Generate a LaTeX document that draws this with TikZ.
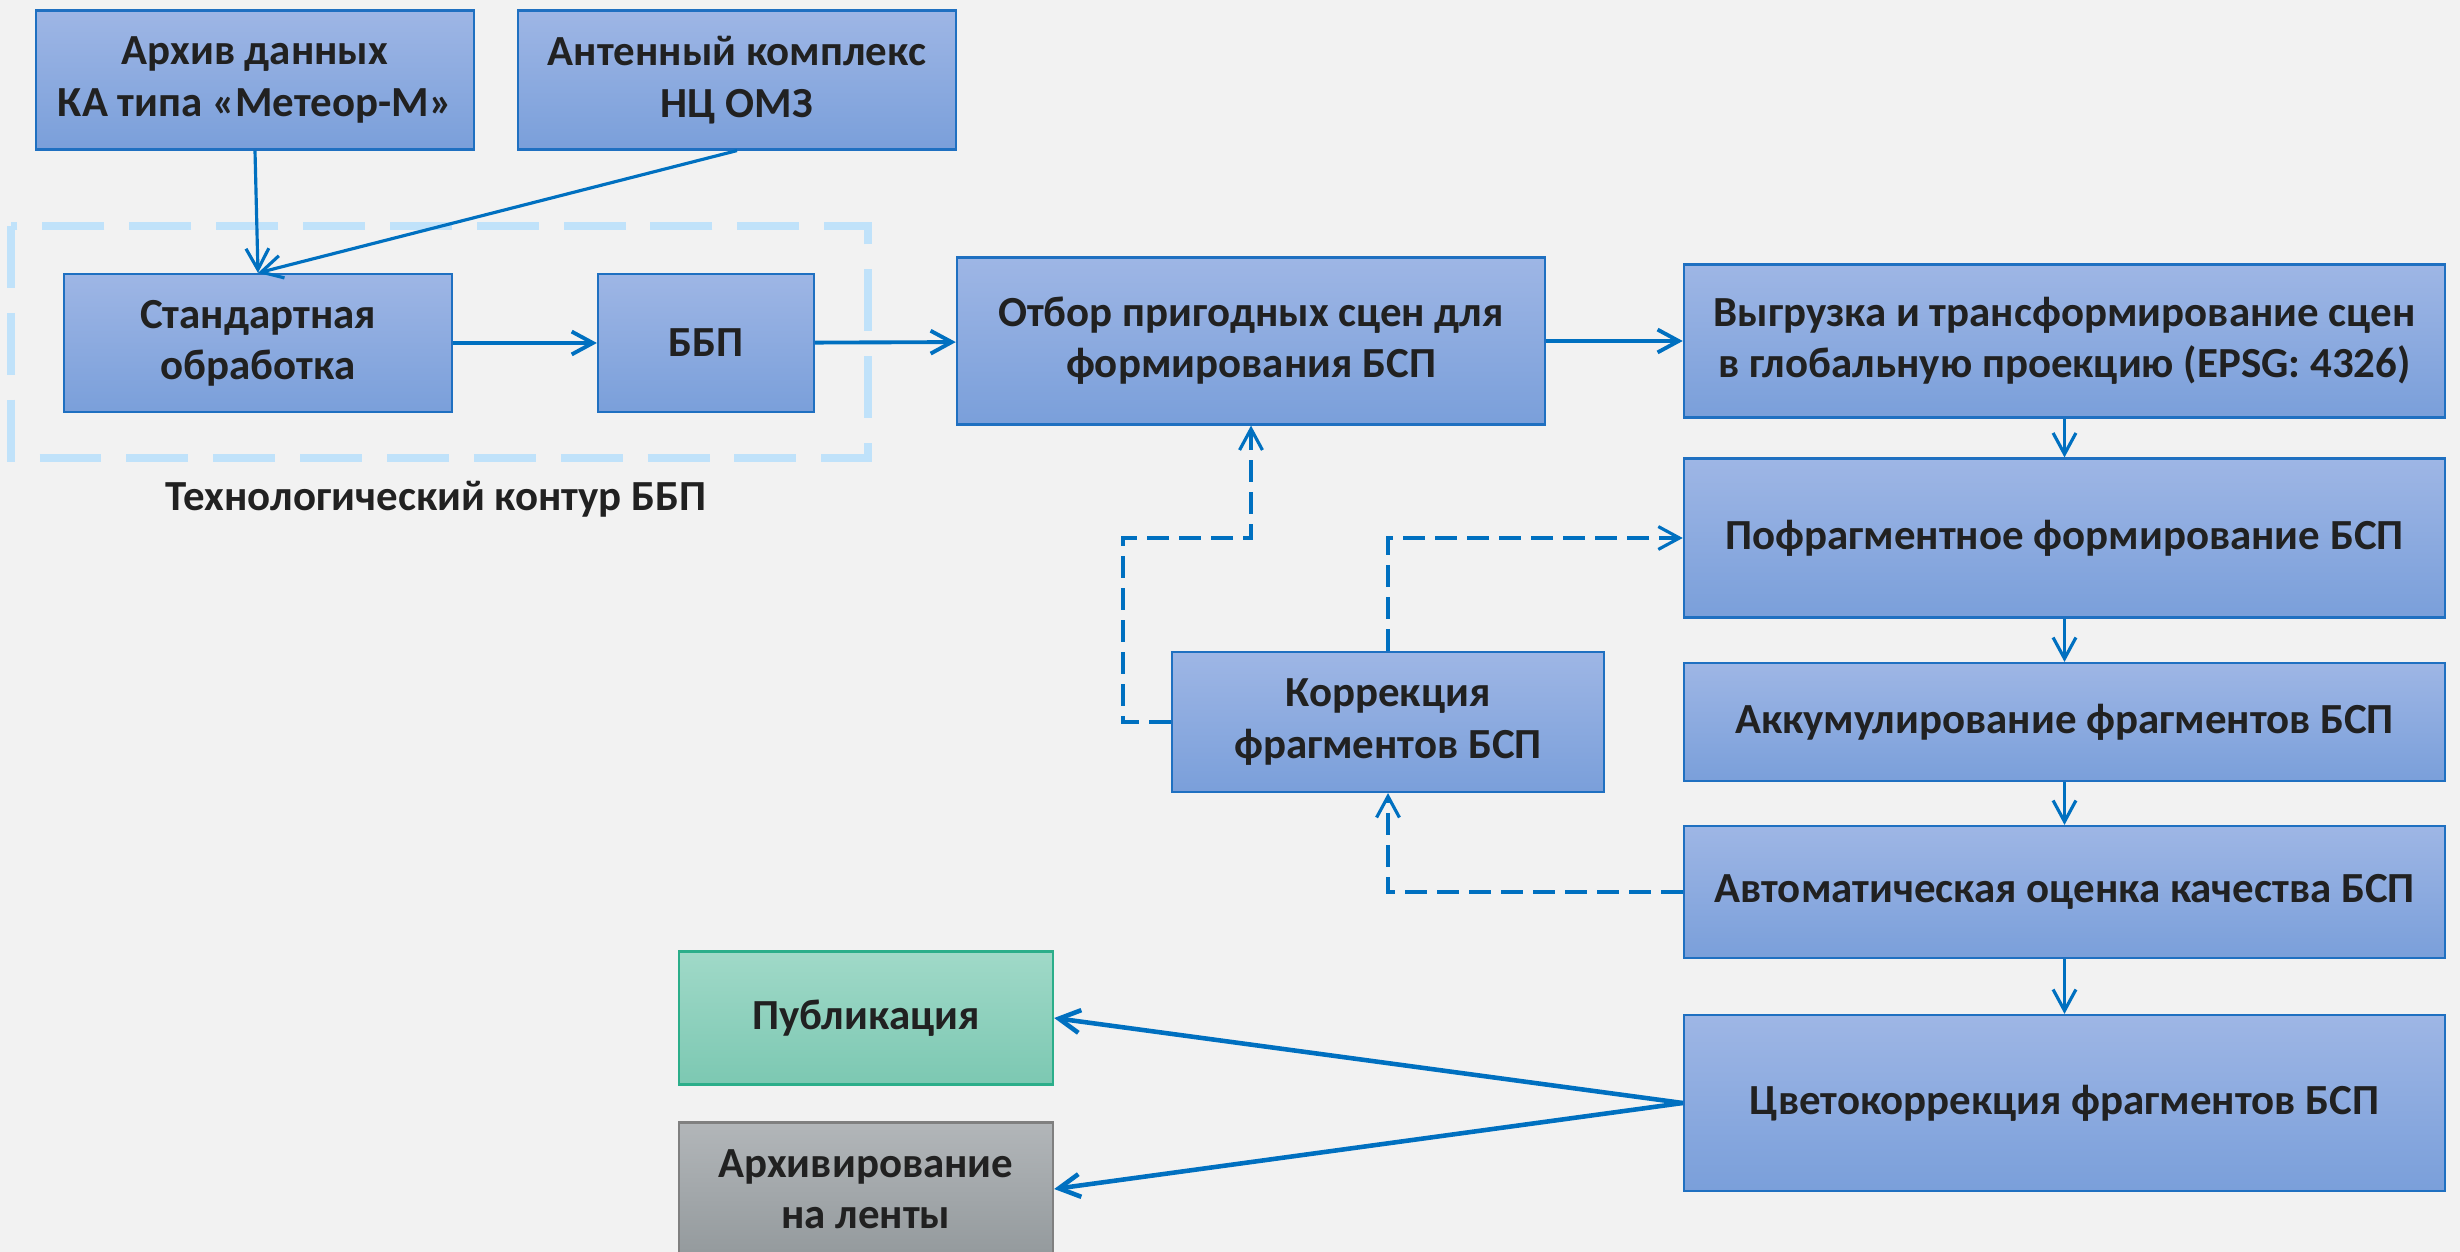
\documentclass[tikz,border=0pt]{standalone}
\usepackage{fontspec}
\setmainfont{Carlito}
\usetikzlibrary{arrows.meta}
\definecolor{bggray}{RGB}{242,242,242}
\definecolor{boxtop}{RGB}{158,182,229}
\definecolor{boxbot}{RGB}{122,159,218}
\definecolor{boxline}{RGB}{31,112,193}
\definecolor{arrblue}{RGB}{0,112,192}
\definecolor{pubtop}{RGB}{160,217,200}
\definecolor{pubbot}{RGB}{124,200,178}
\definecolor{publine}{RGB}{43,174,138}
\definecolor{archtop}{RGB}{178,182,185}
\definecolor{archbot}{RGB}{148,154,157}
\definecolor{archline}{RGB}{128,128,128}
\definecolor{contourblue}{RGB}{192,226,250}
\tikzset{
  blk/.style={draw=boxline,line width=0.6pt,top color=boxtop,bottom color=boxbot,
              align=center,inner sep=0,text=black!87,
              font=\fontsize{12.2}{14.6}\selectfont\bfseries},
  arr/.style={draw=arrblue,line width=0.9pt,-{Straight Barb[length=6pt,width=6.5pt]}},
  dsh/.style={arr,dash pattern=on 6.3pt off 2.8pt},
}

\begin{document}
\begin{tikzpicture}[x=0.01cm,y=-0.01cm]
  \useasboundingbox[fill=bggray] (0,0) rectangle (2460,1252);
  \draw[contourblue,line width=2pt,dash pattern=on 17.6pt off 7.1pt]
        (11,226) rectangle (868,458);
  \node[font=\fontsize{12.2}{14.6}\selectfont\bfseries,text=black!87]
        (contourlbl) at (436,499) {Технологический контур ББП};

  \node[blk,minimum width=4.38cm,minimum height=1.39cm] (archive) at (255,80)
        {Архив данных\\КА типа «Метеор-М»};
  \node[blk,minimum width=4.38cm,minimum height=1.39cm] (antenna) at (737,80)
        {Антенный комплекс\\НЦ ОМЗ};
  \node[blk,minimum width=3.88cm,minimum height=1.38cm] (stand) at (258,343)
        {Стандартная\\обработка};
  \node[blk,minimum width=2.16cm,minimum height=1.38cm] (bbp) at (706,343) {ББП};
  \node[blk,minimum width=5.88cm,minimum height=1.67cm] (otbor) at (1251,341)
        {Отбор пригодных сцен для\\формирования БСП};
  \node[blk,minimum width=7.61cm,minimum height=1.53cm] (vygr) at (2064.5,341)
        {Выгрузка и трансформирование сцен\\в глобальную проекцию (EPSG: 4326)};
  \node[blk,minimum width=7.61cm,minimum height=1.59cm] (pofr) at (2064.5,538)
        {Пофрагментное формирование БСП};
  \node[blk,minimum width=7.61cm,minimum height=1.18cm] (akkum) at (2064.5,722)
        {Аккумулирование фрагментов БСП};
  \node[blk,minimum width=7.61cm,minimum height=1.32cm] (avto) at (2064.5,892)
        {Автоматическая оценка качества БСП};
  \node[blk,minimum width=7.61cm,minimum height=1.76cm] (cveto) at (2064.5,1103)
        {Цветокоррекция фрагментов БСП};
  \node[blk,minimum width=4.32cm,minimum height=1.40cm] (korr) at (1388,722)
        {Коррекция\\фрагментов БСП};
  \node[blk,draw=publine,top color=pubtop,bottom color=pubbot,
        minimum width=3.74cm,minimum height=1.33cm] (publ) at (866,1018) {Публикация};
  \node[blk,draw=archline,top color=archtop,bottom color=archbot,
        minimum width=3.74cm,minimum height=1.33cm] (arch) at (866,1189)
        {Архивирование\\на ленты};

  \draw[arr] (archive.south) -- (stand.north);
  \draw[arr] (antenna.south) -- (stand.north);
  \draw[arr,line width=1.1pt] (stand) -- (bbp);
  \draw[arr,line width=1.1pt] (bbp) -- (otbor);
  \draw[arr,line width=1.1pt] (otbor) -- (vygr);
  \foreach \a/\b in {vygr/pofr,pofr/akkum,akkum/avto,avto/cveto}{
    \draw[arr] (\a) -- (\b);
  }
  \coordinate (korrbend) at (1123,538);
  \draw[dsh] (korr.west) -| (korrbend) -| (otbor.south);
  \draw[dsh] (korr.north) |- (pofr.west);
  \draw[dsh] (avto.west) -| (korr.south);
  \draw[arr,line width=1.3pt] (cveto.west) -- (publ.east);
  \draw[arr,line width=1.3pt] (cveto.west) -- (arch.east);
\end{tikzpicture}
\end{document}
